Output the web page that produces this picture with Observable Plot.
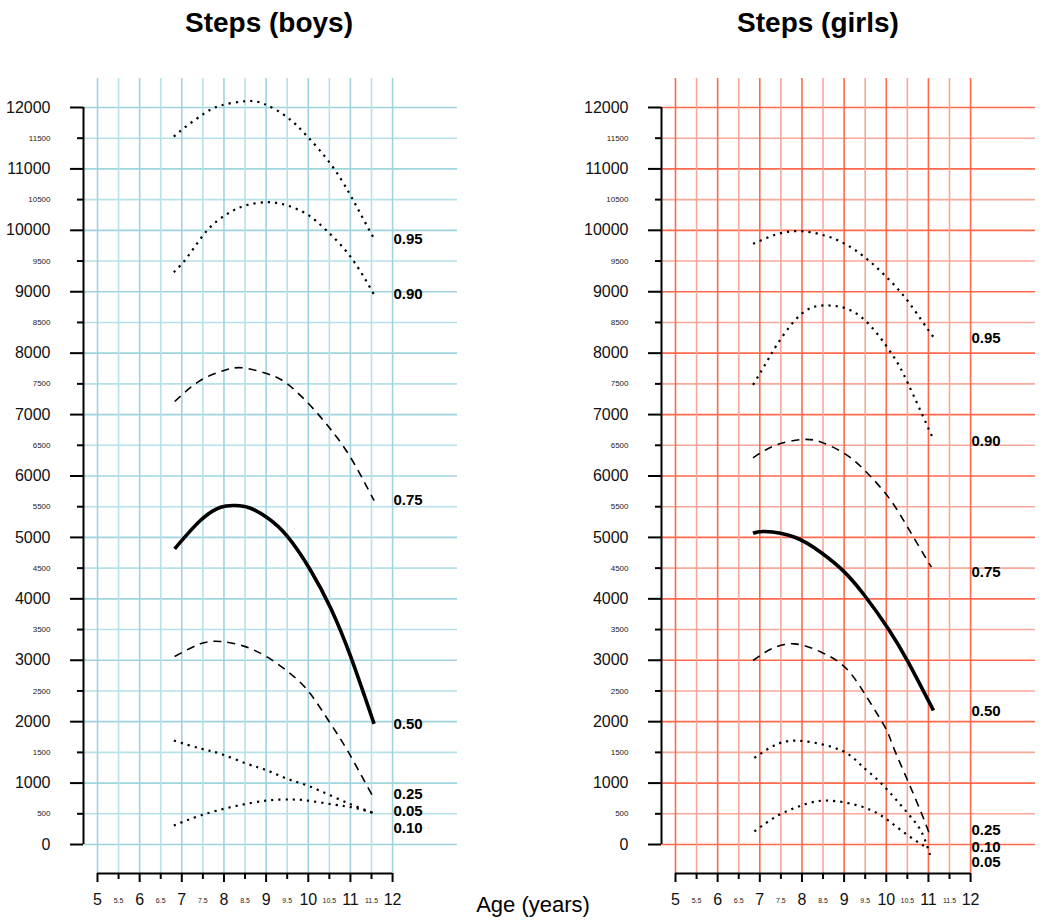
<!DOCTYPE html>
<html>
<head>
<meta charset="utf-8">
<script src="https://cdn.jsdelivr.net/npm/d3@7"></script>
<script src="https://cdn.jsdelivr.net/npm/@observablehq/plot@0.6"></script>
<style>
  body { margin: 0; background: #fff; font-family: "Liberation Sans", Arial, sans-serif; }
  #wrap { position: relative; width: 1052px; height: 922px; overflow: hidden; }
  .panel { position: absolute; top: 0; }
  .title { position: absolute; top: 9px; width: 300px; text-align: center; font-size: 28px; font-weight: bold; line-height: 1; color: #000; }
  .xlab { position: absolute; top: 894px; width: 200px; text-align: center; font-size: 22px; line-height: 1; color: #000; }
</style>
</head>
<body>
<div id="wrap">
  <div class="title" style="left:119px">Steps (boys)</div>
  <div class="title" style="left:668px">Steps (girls)</div>
  <div class="xlab" style="left:433px">Age (years)</div>
</div>
<script>
// ---- tick labels ----
const yMajorTicks = d3.range(0, 12001, 1000);
const yMinorTicks = d3.range(500, 12000, 1000);
const xMajorTicks = [5, 6, 7, 8, 9, 10, 11, 12];
const xMinorTicks = [5.5, 6.5, 7.5, 8.5, 9.5, 10.5, 11.5];

// ---- boys: [age, steps] ----
const boys95 = [[6.81,11527],[7.13,11706],[7.52,11896],[7.92,12032],[8.51,12102],[8.95,12059],[9.50,11842],[9.98,11527],[10.53,11082],[10.96,10620],[11.24,10268],[11.56,9862]];
const boys90 = [[6.81,9318],[7.13,9562],[7.60,9997],[8.08,10268],[8.51,10404],[9.03,10458],[9.50,10404],[9.98,10257],[10.45,9986],[11.01,9562],[11.56,8955]];
const boys75 = [[6.83,7213],[7.44,7555],[8.00,7717],[8.43,7762],[9.03,7664],[9.50,7501],[10.05,7148],[10.53,6760],[11.00,6306],[11.56,5601]];
const boys50 = [[6.83,4814],[7.44,5275],[7.92,5492],[8.27,5519],[8.60,5483],[9.03,5320],[9.50,5020],[10.05,4470],[10.53,3850],[11.00,3070],[11.56,1965]];
const boys25 = [[6.83,3061],[7.44,3267],[7.92,3305],[8.47,3230],[9.03,3050],[9.58,2779],[10.05,2453],[10.53,1965],[10.93,1530],[11.54,770]];
const boys10 = [[6.81,309],[7.44,472],[8.23,619],[9.03,716],[9.58,733],[9.98,716],[10.60,651],[11.08,600],[11.56,510]];
const boys05 = [[6.81,1693],[7.44,1563],[7.92,1476],[8.55,1314],[9.03,1205],[9.50,1070],[9.98,960],[10.53,798],[11.08,635],[11.56,510]];

// ---- girls: [age, steps] ----
const girls95 = [[6.84,9780],[7.44,9943],[7.99,9986],[8.54,9915],[9.02,9780],[9.49,9562],[9.97,9264],[10.44,8911],[10.84,8531],[11.12,8260]];
const girls90 = [[6.84,7484],[7.20,7900],[7.40,8130],[7.99,8640],[8.66,8776],[9.41,8586],[10.13,7990],[10.52,7500],[11.12,6593]];
const girls75 = [[6.84,6296],[7.36,6496],[7.99,6593],[8.46,6550],[9.02,6361],[9.49,6090],[10.05,5656],[10.52,5150],[11.07,4515]];
const girls50 = [[6.84,5068],[7.12,5096],[7.83,5003],[8.46,4750],[8.98,4455],[9.49,4050],[10.05,3510],[10.52,2970],[11.12,2182]];
const girls25 = [[6.84,2996],[7.28,3186],[7.83,3267],[8.46,3131],[9.02,2887],[9.49,2453],[9.97,1910],[10.16,1600],[10.54,990],[10.84,500],[11.04,147]];
const girls10 = [[6.87,1410],[7.43,1639],[8.06,1682],[8.94,1530],[9.41,1286],[9.89,988],[10.52,500],[10.84,200],[11.04,-170]];
const girls05 = [[6.87,212],[7.43,472],[7.99,635],[8.62,716],[9.49,600],[10.05,390],[10.52,147],[10.98,-60]];

// ---- quantile labels and the step value each sits at ----
const quantiles = ["0.95","0.90","0.75","0.50","0.25","0.10","0.05"];
const boysLabelSteps  = [9860, 8955, 5600, 1955, 814, 260, 537];
const girlsLabelSteps = [8238, 6566, 4434, 2170, 240, -40, -290];

const styles = {
  "0.95": {strokeWidth: 2.2, strokeDasharray: "2.2,5"},
  "0.90": {strokeWidth: 2.2, strokeDasharray: "2.2,5"},
  "0.75": {strokeWidth: 1.6, strokeDasharray: "8,6"},
  "0.50": {strokeWidth: 3.6, strokeDasharray: null},
  "0.25": {strokeWidth: 1.6, strokeDasharray: "8,6"},
  "0.10": {strokeWidth: 2.2, strokeDasharray: "2.2,5"},
  "0.05": {strokeWidth: 2.2, strokeDasharray: "2.2,5"}
};

const XDOM = [4.668, 13.54];
const YDOM = [-472, 12472];
const LABEL_X = 12.02;

function panel(series, labelSteps, gridMajor, gridMinor) {
  const marks = [
    Plot.ruleY(d3.range(0, 12001, 500), {stroke: d => d % 1000 === 0 ? gridMajor : gridMinor, strokeWidth: 1.6}),
    Plot.ruleX(d3.range(5, 12.01, 0.5), {stroke: d => d % 1 === 0 ? gridMajor : gridMinor, strokeWidth: 1.6}),
    Plot.ruleY([YDOM[0]], {x1: 5, x2: 12, stroke: "#000", strokeWidth: 2}),
    Plot.ruleX([XDOM[0]], {y1: 0, y2: 12000, stroke: "#000", strokeWidth: 2}),
    Plot.axisY(yMajorTicks, {tickSize: 13, tickPadding: 20, fontSize: 16, strokeWidth: 2, tickFormat: d => String(d), fill: "#111"}),
    Plot.axisY(yMinorTicks, {tickSize: 6, tickPadding: 27, fontSize: 8, strokeWidth: 2, tickFormat: d => String(d), fill: "#222"}),
    Plot.axisX(xMajorTicks, {tickSize: 9, tickPadding: 11, fontSize: 16, strokeWidth: 2, tickFormat: d => String(d), fill: "#111"}),
    Plot.axisX(xMinorTicks, {tickSize: 6, tickPadding: 19, fontSize: 7, strokeWidth: 2, tickFormat: d => String(d), fill: "#222"})
  ];
  quantiles.forEach((q, i) => {
    marks.push(Plot.line(series[i], {x: d => d[0], y: d => d[1], curve: "natural", stroke: "#000", strokeLinecap: "butt", ...styles[q]}));
  });
  const labs = quantiles.map((q, i) => ({q, v: labelSteps[i]}));
  marks.push(Plot.text(labs, {x: () => LABEL_X, y: d => d.v, text: d => d.q, textAnchor: "start", fontSize: 15, fontWeight: "bold", fill: "#000"}));
  return Plot.plot({
    width: 467, height: 922,
    marginLeft: 83, marginRight: 10, marginTop: 78, marginBottom: 49,
    style: {fontFamily: "'Liberation Sans', Arial, sans-serif", background: "transparent", overflow: "visible"},
    x: {domain: XDOM, axis: null},
    y: {domain: YDOM, axis: null},
    marks
  });
}

const wrap = document.getElementById("wrap");
const left = panel([boys95, boys90, boys75, boys50, boys25, boys10, boys05], boysLabelSteps, "#9fd4df", "#b7e1e9");
left.classList.add("panel"); left.style.left = "0px";
const right = panel([girls95, girls90, girls75, girls50, girls25, girls10, girls05], girlsLabelSteps, "#ff6a4e", "#f8a898");
right.classList.add("panel"); right.style.left = "578px";
wrap.insertBefore(right, wrap.firstChild);
wrap.insertBefore(left, wrap.firstChild);
</script>
</body>
</html>
